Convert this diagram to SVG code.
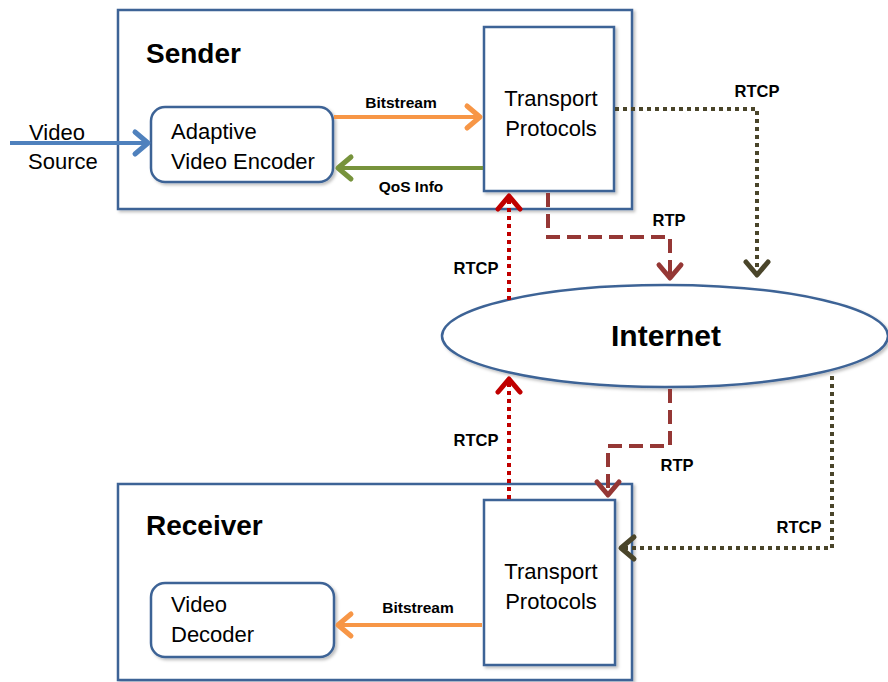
<svg xmlns="http://www.w3.org/2000/svg" width="888" height="682" viewBox="0 0 888 682">
<style>
.box{fill:#fff;stroke:#3e6496;stroke-width:2.5}
.t{font-family:"Liberation Sans",Arial,sans-serif;fill:#000}
.n{font-size:22px}
.b{font-weight:bold}
.lbl{font-size:15.5px;font-weight:bold}
.rl{font-size:16.5px;font-weight:bold}
.c{fill:none;stroke-width:4}
</style>
<defs>
<filter id="sh" x="-5%" y="-5%" width="115%" height="115%"><feDropShadow dx="2" dy="2" stdDeviation="1.5" flood-color="#000" flood-opacity="0.25"/></filter>
<marker id="aBlue" markerUnits="userSpaceOnUse" markerWidth="30" markerHeight="30" viewBox="-16 -15 19 30" refX="0" refY="0" orient="auto"><path d="M-13,-11 L0,0 L-13,11" fill="none" stroke="#4f81bd" stroke-width="5" stroke-linecap="round" stroke-linejoin="round"/></marker>
<marker id="aOr" markerUnits="userSpaceOnUse" markerWidth="30" markerHeight="30" viewBox="-16 -15 19 30" refX="0" refY="0" orient="auto"><path d="M-13,-11 L0,0 L-13,11" fill="none" stroke="#f79646" stroke-width="5" stroke-linecap="round" stroke-linejoin="round"/></marker>
<marker id="aGr" markerUnits="userSpaceOnUse" markerWidth="30" markerHeight="30" viewBox="-16 -15 19 30" refX="0" refY="0" orient="auto"><path d="M-13,-11 L0,0 L-13,11" fill="none" stroke="#77933c" stroke-width="5" stroke-linecap="round" stroke-linejoin="round"/></marker>
<marker id="aRed" markerUnits="userSpaceOnUse" markerWidth="30" markerHeight="30" viewBox="-16 -15 19 30" refX="0" refY="0" orient="auto"><path d="M-13,-11 L0,0 L-13,11" fill="none" stroke="#c00000" stroke-width="5" stroke-linecap="round" stroke-linejoin="round"/></marker>
<marker id="aBr" markerUnits="userSpaceOnUse" markerWidth="30" markerHeight="30" viewBox="-16 -15 19 30" refX="0" refY="0" orient="auto"><path d="M-13,-11 L0,0 L-13,11" fill="none" stroke="#953735" stroke-width="5" stroke-linecap="round" stroke-linejoin="round"/></marker>
<marker id="aOl" markerUnits="userSpaceOnUse" markerWidth="30" markerHeight="30" viewBox="-16 -15 19 30" refX="0" refY="0" orient="auto"><path d="M-13,-11 L0,0 L-13,11" fill="none" stroke="#4a452a" stroke-width="5" stroke-linecap="round" stroke-linejoin="round"/></marker>
</defs>
<rect width="888" height="682" fill="#fff"/>

<g id="sender">
<rect class="box" x="118" y="10" width="514" height="199" filter="url(#sh)"/>
<text class="t b" x="146" y="63" font-size="28">Sender</text>
</g>
<g id="encoder">
<rect class="box" x="151" y="107" width="182" height="75" rx="14" filter="url(#sh)"/>
<text class="t n" x="171" y="139">Adaptive</text>
<text class="t n" x="171" y="169">Video Encoder</text>
</g>
<g id="sender-transport">
<rect class="box" x="484" y="27" width="130" height="164" filter="url(#sh)"/>
<text class="t n" x="551" y="106" text-anchor="middle">Transport</text>
<text class="t n" x="551" y="136" text-anchor="middle">Protocols</text>
</g>
<g id="internet">
<ellipse cx="665" cy="336" rx="223" ry="51" fill="#fff" stroke="#3e6496" stroke-width="2.5" filter="url(#sh)"/>
<text class="t b" x="666" y="346" font-size="30" text-anchor="middle">Internet</text>
</g>
<g id="receiver">
<rect class="box" x="118" y="484" width="514" height="196" filter="url(#sh)"/>
<text class="t b" x="146" y="535" font-size="28">Receiver</text>
</g>
<g id="decoder">
<rect class="box" x="151" y="583" width="183" height="74" rx="14" filter="url(#sh)"/>
<text class="t n" x="171" y="612">Video</text>
<text class="t n" x="171" y="642">Decoder</text>
</g>
<g id="receiver-transport">
<rect class="box" x="484" y="500" width="131" height="165" filter="url(#sh)"/>
<text class="t n" x="551" y="579" text-anchor="middle">Transport</text>
<text class="t n" x="551" y="609" text-anchor="middle">Protocols</text>
</g>

<g id="connectors">
<line class="c" x1="10" y1="143" x2="148" y2="143" stroke="#4f81bd" marker-end="url(#aBlue)"/>
<text class="t n" x="29" y="140">Video</text>
<text class="t n" x="28" y="169">Source</text>

<line class="c" x1="334" y1="117" x2="480" y2="117" stroke="#f79646" marker-end="url(#aOr)"/>
<text class="t lbl" x="401" y="108" text-anchor="middle">Bitstream</text>

<line class="c" x1="483" y1="168" x2="338" y2="168" stroke="#77933c" marker-end="url(#aGr)"/>
<text class="t lbl" x="411" y="192" text-anchor="middle">QoS Info</text>

<polyline class="c" points="615,109 757,109 757,275" stroke="#4a452a" stroke-dasharray="4 4" marker-end="url(#aOl)"/>
<text class="t rl" x="757" y="97" text-anchor="middle">RTCP</text>

<polyline class="c" points="548,193 548,237 670,237 670,278" stroke="#953735" stroke-dasharray="14 7" marker-end="url(#aBr)"/>
<text class="t rl" x="669" y="226" text-anchor="middle">RTP</text>

<line class="c" x1="509" y1="300" x2="509" y2="196" stroke="#c00000" stroke-dasharray="4 4" marker-end="url(#aRed)"/>
<text class="t rl" x="476" y="274" text-anchor="middle">RTCP</text>

<line class="c" x1="509" y1="499" x2="509" y2="379" stroke="#c00000" stroke-dasharray="4 4" marker-end="url(#aRed)"/>
<text class="t rl" x="476" y="446" text-anchor="middle">RTCP</text>

<polyline class="c" points="670,389 670,446 608,446 608,495" stroke="#953735" stroke-dasharray="14 7" marker-end="url(#aBr)"/>
<text class="t rl" x="677" y="471" text-anchor="middle">RTP</text>

<polyline class="c" points="832,376 832,548 621,548" stroke="#4a452a" stroke-dasharray="4 4" marker-end="url(#aOl)"/>
<text class="t rl" x="799" y="533" text-anchor="middle">RTCP</text>

<line class="c" x1="482" y1="625" x2="338" y2="625" stroke="#f79646" marker-end="url(#aOr)"/>
<text class="t lbl" x="418" y="613" text-anchor="middle">Bitstream</text>
</g>
</svg>
